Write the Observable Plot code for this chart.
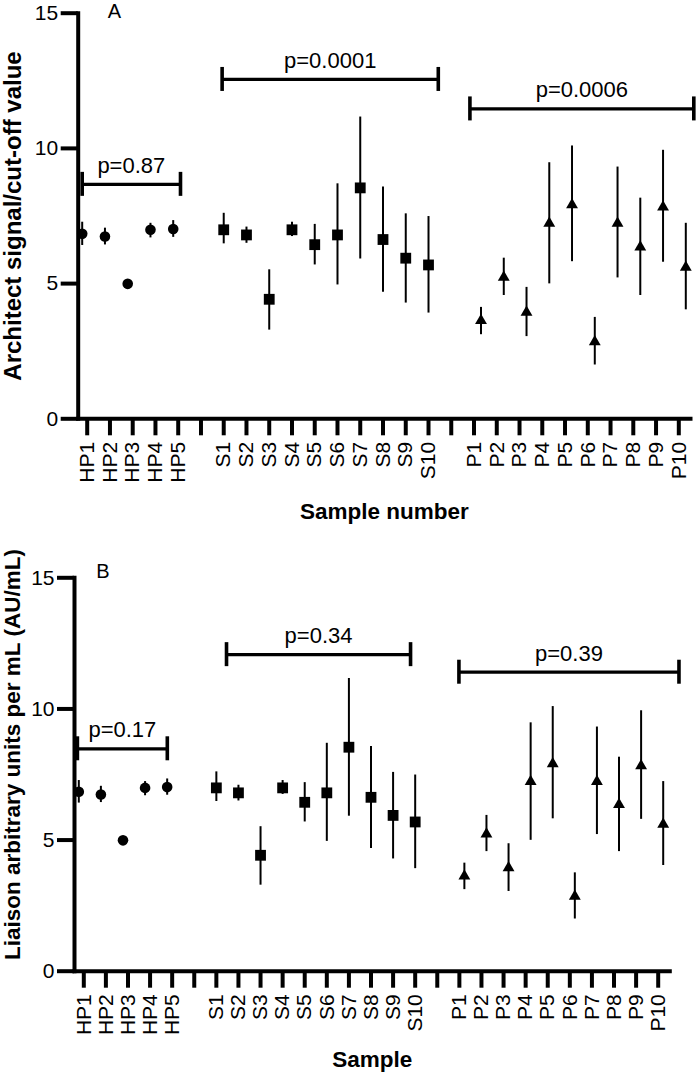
<!DOCTYPE html>
<html>
<head>
<meta charset="utf-8">
<script src="https://cdn.jsdelivr.net/npm/d3@7"></script>
<script src="https://cdn.jsdelivr.net/npm/@observablehq/plot@0.6"></script>
<style>
  html, body { margin: 0; padding: 0; background: #fff; }
  #chart { width: 696px; }
  #chart svg { display: block; }
</style>
</head>
<body>
<div id="chart"></div>
<script>
// ---- Data ----
const xLabels = ["HP1","HP2","HP3","HP4","HP5","",
  "S1","S2","S3","S4","S5","S6","S7","S8","S9","S10","",
  "P1","P2","P3","P4","P5","P6","P7","P8","P9","P10"];

const hpNames = ["HP1","HP2","HP3","HP4","HP5"];
const hpMean  = [6.84, 6.74, 4.99, 6.99, 7.02];
const hpLow   = [6.41, 6.43, 4.99, 6.69, 6.71];
const hpHigh  = [7.27, 7.05, 4.99, 7.23, 7.33];

const sNames = ["S1","S2","S3","S4","S5","S6","S7","S8","S9","S10"];
const sMean  = [6.99, 6.80, 4.42, 6.99, 6.44, 6.80, 8.54, 6.63, 5.94, 5.69];
const sLow   = [6.47, 6.49, 3.28, 6.74, 5.69, 4.95, 5.91, 4.68, 4.28, 3.91];
const sHigh  = [7.60, 7.09, 5.51, 7.27, 7.19, 8.69, 11.16, 8.57, 7.58, 7.48];

const pNames = ["P1","P2","P3","P4","P5","P6","P7","P8","P9","P10"];
const pMean  = [3.63, 5.23, 3.94, 7.23, 7.91, 2.85, 7.23, 6.35, 7.83, 5.60];
const pLow   = [3.11, 4.56, 3.04, 4.99, 5.81, 1.99, 5.21, 4.56, 5.79, 4.03];
const pHigh  = [4.12, 5.94, 4.86, 9.47, 10.09, 3.75, 9.31, 8.16, 9.93, 7.23];

const yTicks = [0, 5, 10, 15];

// significance brackets (x in category-slot units)
const bracketLabelsA = ["p=0.87", "p=0.0001", "p=0.0006"];
const bracketStartA  = [-0.22, 5.93, 16.82];
const bracketEndA    = [4.10, 15.43, 26.66];
const bracketYA      = [8.67, 12.55, 11.46];

const bracketLabelsB = ["p=0.17", "p=0.34", "p=0.39"];
const bracketStartB  = [-0.29, 6.46, 16.98];
const bracketEndB    = [3.78, 14.79, 26.94];
const bracketYB      = [8.48, 12.07, 11.40];

// ---- Build tables ----
function rowsFor(names, mean, low, high, group) {
  return names.map((n, i) => ({name: n, slot: xLabels.indexOf(n), mean: mean[i], low: low[i], high: high[i], group}));
}
const groups = [
  {key: "HP", rows: rowsFor(hpNames, hpMean, hpLow, hpHigh, "HP"), symbol: "circle", r: 5.3},
  {key: "S",  rows: rowsFor(sNames, sMean, sLow, sHigh, "S"),       symbol: "square", r: 6.1},
  {key: "P",  rows: rowsFor(pNames, pMean, pLow, pHigh, "P"),       symbol: "triangle", r: 4.4}
];
function bracketRows(labels, x1, x2, y) {
  return labels.map((l, i) => ({label: l, x1: x1[i], x2: x2[i], y: y[i]}));
}

const FONT = "'Liberation Sans', Arial, Helvetica, sans-serif";

function panel(cfg) {
  const brackets = bracketRows(cfg.bLabels, cfg.bStart, cfg.bEnd, cfg.bY);
  const marks = [];
  for (const g of groups) {
    marks.push(Plot.ruleX(g.rows, {x: "slot", y1: "low", y2: "high", stroke: "black", strokeWidth: 2, dx: cfg.groupDx[g.key]}));
    marks.push(Plot.dot(g.rows, {x: "slot", y: "mean", symbol: () => g.symbol, r: g.r, fill: "black", stroke: "none", dx: cfg.groupDx[g.key]}));
  }
  // brackets
  marks.push(Plot.ruleY(brackets, {y: "y", x1: "x1", x2: "x2", stroke: "black", strokeWidth: 3.3}));
  marks.push(Plot.ruleX(brackets, {x: "x1", y1: "y", y2: "y", insetTop: -12, insetBottom: -12, stroke: "black", strokeWidth: 3.6}));
  marks.push(Plot.ruleX(brackets, {x: "x2", y1: "y", y2: "y", insetTop: -12, insetBottom: -12, stroke: "black", strokeWidth: 3.6}));
  marks.push(Plot.text(brackets, {x: d => (d.x1 + d.x2) / 2, y: "y", text: "label", lineAnchor: "bottom", dy: -11.5, fontSize: 22, fill: "black"}));
  // axes
  marks.push(Plot.axisY({ticks: yTicks, tickSize: 17, tickPadding: 3, fontSize: 21, strokeWidth: 4, label: null, fill: "black"}));
  marks.push(Plot.axisX({ticks: d3.range(xLabels.length), tickFormat: i => xLabels[i], tickRotate: -90, tickSize: 17, tickPadding: 6, fontSize: 21, strokeWidth: 4, label: null, fill: "black"}));
  marks.push(Plot.frame({anchor: "left", strokeWidth: 4, stroke: "black"}));
  marks.push(Plot.frame({anchor: "bottom", strokeWidth: 4, stroke: "black"}));
  // axis titles and panel letter
  marks.push(Plot.text([cfg.yLabel], {frameAnchor: "left", textAnchor: "middle", lineAnchor: "middle", dx: cfg.yLabelDx, dy: cfg.yLabelDy, rotate: -90, fontSize: cfg.yLabelSize, fontWeight: "bold", fill: "black"}));
  marks.push(Plot.text([cfg.xLabel], {frameAnchor: "bottom", textAnchor: "middle", dy: cfg.xLabelDy, lineAnchor: "bottom", fontSize: 22.5, fontWeight: "bold", fill: "black"}));
  marks.push(Plot.text([cfg.letter], {frameAnchor: "top-left", textAnchor: "middle", dx: cfg.letterDx, dy: cfg.letterDy, lineAnchor: "bottom", fontSize: 20, fill: "black"}));

  return Plot.plot({
    width: 696,
    height: cfg.height,
    marginTop: cfg.marginTop,
    marginBottom: cfg.marginBottom,
    marginLeft: cfg.marginLeft,
    marginRight: cfg.marginRight,
    style: {fontFamily: FONT, color: "black", background: "white", overflow: "visible"},
    x: {type: "linear", domain: [0, xLabels.length - 1], range: cfg.xRange},
    y: {domain: [0, 15]},
    marks
  });
}

const chart = document.getElementById("chart");
chart.append(panel({
  height: 530, marginTop: 12.7, marginBottom: 111.7, marginLeft: 77.7, marginRight: 6,
  xRange: [86.7, 678.3],
  groupDx: {HP: -5, S: 0, P: 7},
  bLabels: bracketLabelsA, bStart: bracketStartA, bEnd: bracketEndA, bY: bracketYA,
  yLabel: "Architect signal/cut-off value", yLabelDx: -64.7, yLabelDy: 0, yLabelSize: 24,
  xLabel: "Sample number", xLabelDy: 99.7,
  letter: "A", letterDx: 36.3, letterDy: 4.3
}));
chart.append(panel({
  height: 542, marginTop: 47.3, marginBottom: 101.3, marginLeft: 74, marginRight: 26.7,
  xRange: [83.3, 657.7],
  groupDx: {HP: -5, S: 0, P: 5},
  bLabels: bracketLabelsB, bStart: bracketStartB, bEnd: bracketEndB, bY: bracketYB,
  yLabel: "Liaison arbitrary units per mL (AU/mL)", yLabelDx: -61.5, yLabelDy: -20, yLabelSize: 22.5,
  xLabel: "Sample", xLabelDy: 95.5,
  letter: "B", letterDx: 28.5, letterDy: 0
}));
</script>
</body>
</html>
